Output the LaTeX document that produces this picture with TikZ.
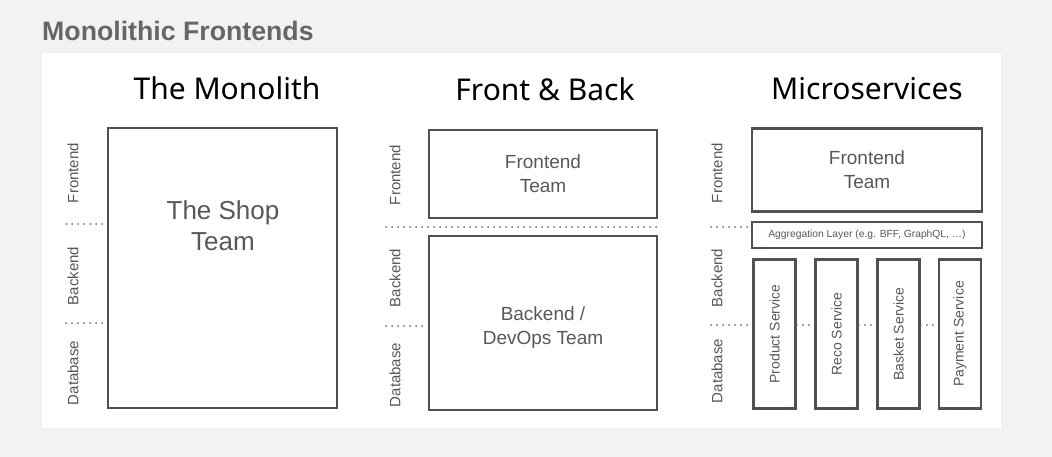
\documentclass[tikz,border=0pt]{standalone}
\usepackage{fontspec}
\setmainfont{Liberation Sans}
\newfontfamily\handfont{Noto Sans}
\definecolor{bgc}{HTML}{F2F2F2}
\definecolor{boxc}{HTML}{4E5155}
\definecolor{txtc}{HTML}{55585C}
\definecolor{dotc}{HTML}{6A6D70}
\definecolor{headc}{HTML}{666666}
\tikzset{
  box/.style={draw=boxc, line width=2.8pt, inner sep=0pt, fill=white, align=center, text=txtc},
  sidelbl/.style={text=txtc, font=\fontsize{15}{18}\selectfont, rotate=90, inner sep=0pt},
  teamtxt/.style={text=txtc, align=center, inner sep=0pt},
  dotline/.style={draw=dotc, line width=2pt, line cap=round, dash pattern=on 0pt off 6pt},
  coltitle/.style={font=\handfont\fontsize{30}{34}\selectfont, text=black, inner sep=0pt},
  svc/.style={box, minimum width=42pt, minimum height=149pt},
  svctxt/.style={text=txtc, font=\fontsize{14}{16}\selectfont, rotate=90, inner sep=0pt}
}
\begin{document}
\begin{tikzpicture}[x=1pt,y=-1pt]
\useasboundingbox (0,0) rectangle (1052,457);
\fill[bgc] (0,0) rectangle (1052,457);
\fill[white] (42,53) rectangle (1001,428);

\node[anchor=west, inner sep=0pt, text=headc, font=\bfseries\fontsize{26.7}{30}\selectfont] (head) at (42,31) {Monolithic Frontends};

% column titles
\node[coltitle] (t1) at (227,88) {The Monolith};
\node[coltitle] (t2) at (545,89) {Front \& Back};
\node[coltitle] (t3) at (867,89) {Microservices};

% ---------- The Monolith ----------
\node[box, minimum width=229pt, minimum height=280pt] (mono) at (222.5,268) {};
\node[teamtxt, font=\fontsize{26}{31}\selectfont] (shop) at (223,226) {The Shop\\Team};
\node[sidelbl] (mf) at (73,173) {Frontend};
\node[sidelbl] (mb) at (73,276) {Backend};
\node[sidelbl] (md) at (73,373) {Database};
\coordinate (m1) at (66,224);
\coordinate (m2) at (66,323);
\draw[dotline] (m1) -- (mono.west |- m1);
\draw[dotline] (m2) -- (mono.west |- m2);

% ---------- Front & Back ----------
\node[box, minimum width=228pt, minimum height=88pt, font=\fontsize{19}{24}\selectfont] (fbfe) at (543,174) {Frontend\\Team};
\node[box, minimum width=228pt, minimum height=174pt] (fbbe) at (543,323) {};
\node[teamtxt, font=\fontsize{19}{24}\selectfont] (fbbetxt) at (543,328) {Backend /\\DevOps Team};
\node[sidelbl] (ff) at (395,175) {Frontend};
\node[sidelbl] (fb) at (395,278) {Backend};
\node[sidelbl] (fd) at (395,375) {Database};
\coordinate (f1) at (386,227);
\coordinate (f2) at (386,326);
\draw[dotline] (f1) -- (fbfe.east |- f1);
\draw[dotline] (f2) -- (fbbe.west |- f2);

% ---------- Microservices ----------
\node[box, minimum width=230pt, minimum height=83pt, font=\fontsize{19}{24}\selectfont] (msfe) at (867,170) {Frontend\\Team};
\node[box, minimum width=230pt, minimum height=26pt, font=\fontsize{10.3}{12}\selectfont] (agg) at (867,235) {Aggregation Layer (e.g. BFF, GraphQL, …)};
\node[svc] (s1) at (774.5,334) {};
\node[svc] (s2) at (836.5,334) {};
\node[svc] (s3) at (898.5,334) {};
\node[svc] (s4) at (960,334) {};
\node[svctxt] at (s1) {Product Service};
\node[svctxt] at (s2) {Reco Service};
\node[svctxt] at (s3) {Basket Service};
\node[svctxt] at (s4) {Payment Service};
\node[sidelbl] (sf) at (717,173) {Frontend};
\node[sidelbl] (sb) at (717,278) {Backend};
\node[sidelbl] (sd) at (717,371) {Database};
\coordinate (u1) at (711,227);
\coordinate (u2) at (711,325);
\draw[dotline] (u1) -- (agg.west |- u1);
\draw[dotline] (u2) -- (s1.west |- u2);
\draw[dotline] (s1.east |- u2) -- (s2.west |- u2);
\draw[dotline] (s2.east |- u2) -- (s3.west |- u2);
\draw[dotline] (s3.east |- u2) -- (s4.west |- u2);
\end{tikzpicture}
\end{document}
